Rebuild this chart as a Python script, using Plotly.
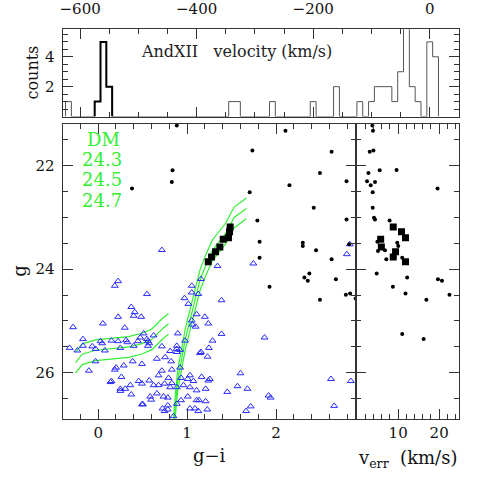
import numpy as np
import plotly.graph_objects as go

# ---------------- data ----------------
# velocity histogram (10 km/s bins, bin centres and counts)
bin_width = 10
all_vel_centers = [-620, -570, -560, -550, -340, -330, -270, -200, -160, -120,
                   -100, -90, -80, -70, -60, -50, -40, -30, -20, 0, 10]
all_vel_counts = [1, 1, 5, 2, 1, 1, 1, 1, 2, 1,
                  1, 2, 2, 2, 1, 3, 12, 2, 1, 5, 4]
member_vel_centers = [-570, -560, -550]
member_vel_counts = [1, 5, 2]

# photometric-only stars (g-i, g)
tri_gi = [0.716, 1.342, 1.745, 2.830, 2.796, 0.187, 0.224, 1.052, 1.156, 1.387,
          0.548, 1.052, 1.126, 0.970, 0.372, 1.015, 0.411, 0.399, 0.224, 0.484,
          1.107, 1.200, 1.052, -0.283, 0.053, 0.299, 1.059, 1.096, 1.238, 0.511,
          0.623, 0.895, -0.171, 0.026, 0.045, 0.149, 0.224, 0.313, 0.328, 0.447,
          0.548, 0.559, 0.574, 0.473, 0.977, -0.321, -0.235, -0.171, -0.067, -0.030,
          0.075, 0.249, 0.399, 0.559, 0.716, 0.809, 0.884, 0.884, 0.884, 0.921,
          1.245, 1.144, -0.030, 0.388, 0.492, 0.660, 0.753, 0.820, 1.230, -0.104,
          0.187, 0.201, 0.287, 0.716, 0.828, 0.921, 0.679, 0.791, 0.932, 1.007,
          1.032, 1.163, 0.149, 0.261, 0.455, 0.492, 0.574, 0.746, 0.828, 1.071,
          1.238, 0.249, 0.305, 0.361, 0.623, 0.679, 0.809, 0.884, 0.959, 1.032,
          0.249, 0.372, 1.107, 1.208, 0.585, 0.735, 0.783, 1.007, 0.596, 0.492,
          0.783, 0.884, 1.107, 1.208, 0.724, 0.746, 0.783, 1.032, 1.088, 1.227,
          0.847, 1.387, 1.286, 1.156, 1.871, 1.600, 1.566, 1.678, 1.451, 1.715,
          1.663, 1.916, 1.939, 2.618, 2.841, 2.654, 1.256, 1.133, 1.126, 0.932,
          0.138, 0.660, 0.503]
tri_g = [23.63, 23.94, 23.89, 23.52, 23.71, 24.32, 24.23, 24.32, 24.19, 24.60,
         24.48, 24.45, 24.48, 24.56, 24.73, 24.67, 24.83, 24.90, 24.92, 24.92,
         24.87, 24.92, 24.99, 25.12, 25.05, 25.13, 25.07, 25.11, 25.05, 25.24,
         25.28, 25.24, 25.35, 25.39, 25.43, 25.38, 25.39, 25.37, 25.41, 25.39,
         25.35, 25.39, 25.43, 25.32, 25.38, 25.52, 25.57, 25.48, 25.49, 25.54,
         25.57, 25.52, 25.48, 25.48, 25.49, 25.58, 25.48, 25.54, 25.60, 25.56,
         25.52, 25.62, 25.78, 25.78, 25.83, 25.73, 25.70, 25.78, 25.69, 25.96,
         25.94, 25.90, 25.86, 25.96, 25.94, 25.90, 26.05, 26.10, 26.10, 26.12,
         26.05, 26.08, 26.16, 26.08, 26.16, 26.21, 26.15, 26.21, 26.20, 26.16,
         26.15, 26.31, 26.31, 26.24, 26.24, 26.24, 26.28, 26.28, 26.24, 26.28,
         26.35, 26.42, 26.34, 26.31, 26.46, 26.46, 26.48, 26.46, 26.52, 26.61,
         26.63, 26.60, 26.53, 26.55, 26.69, 26.74, 26.71, 26.69, 26.69, 26.71,
         26.84, 25.25, 25.38, 25.60, 25.32, 26.01, 26.26, 26.31, 26.37, 26.65,
         26.74, 26.44, 26.48, 26.12, 26.16, 26.64, 26.12, 26.53, 26.74, 26.53,
         26.18, 26.40, 26.61]

# stars with velocities, non-members (g-i, g, v_err); None = outside the panel
dot_gi = [0.884, 2.106, 1.734, 2.625, 0.836, None, 2.494, 2.793, 0.828, 2.151,
          0.380, 1.704, 2.424, None, 2.793, 1.790, 1.815, 2.301, 2.301, 2.822,
          2.450, None, 1.815, 2.625, 2.375, 2.319, 2.673, 2.357, 1.927, 2.833,
          2.785, 2.494, 2.895, None, None]
dot_g = [21.225, 21.327, 21.71, 21.73, 22.09, 22.085, 22.142, 22.30, 22.315, 22.379,
         22.442, 22.513, 22.815, 23.008, 23.038, 23.058, 23.469, 23.488, 23.552, 23.519,
         23.635, 23.648, 23.777, 23.808, 24.085, 24.162, 24.192, 24.225, 24.34, 24.469,
         24.494, 24.59, 24.565, 25.25, 25.346]
dot_verr = [3.73, 3.87, 3.97, 3.07, 5.50, 9.61, 2.76, 2.42, 4.36, 3.32,
            19.61, 3.80, 3.80, 4.12, 4.36, 7.92, 4.94, 9.78, 10.02, None,
            6.78, 5.08, 10.99, 7.12, 4.77, 12.20, 19.71, 20.68, 8.72, 11.79,
            22.52, 16.88, None, 10.99, 16.22]

# AndXII members
mem_gi = [1.484, 1.477, 1.465, 1.406, 1.368, 1.320, 1.275, 1.238]
mem_g = [23.187, 23.277, 23.392, 23.423, 23.571, 23.662, 23.763, 23.854]
mem_verr = [8.81, 10.82, 11.79, 5.74, 5.91, 9.37, 8.81, 11.79]

# isochrone (absolute g magnitude) : red giant branch and horizontal branch
rgb_gi = [0.830, 0.845, 0.865, 0.895, 0.940, 0.977, 1.032, 1.088, 1.144, 1.208,
          1.283, 1.432, 1.529, 1.667]
rgb_Mg = [3.00, 2.60, 2.185, 1.640, 1.256, 0.871, 0.487, 0.102, -0.283, -0.571,
          -0.86, -1.187, -1.50, -1.673]
hb_gi = [-0.254, -0.179, -0.030, 0.157, 0.343, 0.492, 0.604, 0.716, 0.791]
hb_Mg = [1.304, 1.142, 1.065, 1.035, 1.002, 0.938, 0.854, 0.662, 0.554]
dm_values = [24.3, 24.5, 24.7]
dm_labels = ["24.3", "24.5", "24.7"]

# ---------------- helpers ----------------
def step_outline(centers, counts, width):
    centers = np.asarray(centers, float)
    lo = centers.min() - width / 2
    hi = centers.max() + width / 2
    nb = int(round((hi - lo) / width))
    edges = lo + width * np.arange(nb + 1)
    full = np.zeros(nb)
    for c, n in zip(centers, counts):
        full[int(round((c - width / 2 - lo) / width))] = n
    xs = np.repeat(edges, 2)
    ys = np.concatenate([[0], np.repeat(full, 2), [0]])
    return xs, ys

GREEN = "#33ee33"
BLUE = "#2a2aff"
AX = "#333333"
FONT = "DejaVu Serif"

fig = go.Figure()

hx, hy = step_outline(all_vel_centers, all_vel_counts, bin_width)
fig.add_trace(go.Scatter(x=hx, y=hy, mode="lines", line=dict(color="#555555", width=1),
                         xaxis="x", yaxis="y", showlegend=False, hoverinfo="skip"))
mx, my = step_outline(member_vel_centers, member_vel_counts, bin_width)
fig.add_trace(go.Scatter(x=mx, y=my, mode="lines", line=dict(color="black", width=2),
                         xaxis="x", yaxis="y", showlegend=False, hoverinfo="skip"))

# isochrones
for dm in dm_values:
    fig.add_trace(go.Scatter(x=rgb_gi, y=[m + dm for m in rgb_Mg], mode="lines",
                             line=dict(color=GREEN, width=1.2), xaxis="x2", yaxis="y2",
                             showlegend=False))
    fig.add_trace(go.Scatter(x=hb_gi, y=[m + dm for m in hb_Mg], mode="lines",
                             line=dict(color=GREEN, width=1.2), xaxis="x2", yaxis="y2",
                             showlegend=False))

fig.add_trace(go.Scatter(x=tri_gi, y=tri_g, mode="markers",
                         marker=dict(symbol="triangle-up-open", size=6, color=BLUE,
                                     line=dict(width=1, color=BLUE)),
                         xaxis="x2", yaxis="y2", showlegend=False))
fig.add_trace(go.Scatter(x=dot_gi, y=dot_g, mode="markers",
                         marker=dict(symbol="circle", size=4, color="black"),
                         xaxis="x2", yaxis="y2", showlegend=False))
fig.add_trace(go.Scatter(x=mem_gi, y=mem_g, mode="markers",
                         marker=dict(symbol="square", size=7, color="black"),
                         xaxis="x2", yaxis="y2", showlegend=False))

fig.add_trace(go.Scatter(x=dot_verr, y=dot_g, mode="markers",
                         marker=dict(symbol="circle", size=4, color="black"),
                         xaxis="x3", yaxis="y3", showlegend=False))
fig.add_trace(go.Scatter(x=mem_verr, y=mem_g, mode="markers",
                         marker=dict(symbol="square", size=7, color="black"),
                         xaxis="x3", yaxis="y3", showlegend=False))

W = H = 485.0


def common(**kw):
    d = dict(showline=True, linecolor=AX, linewidth=1, mirror="ticks", ticks="inside",
             ticklen=10, tickwidth=1, tickcolor=AX, showgrid=False, zeroline=False,
             tickfont=dict(family=FONT, size=15, color="#111"), ticklabelstandoff=4)
    d.update(kw)
    return d


def minor(dtick, tick0=0):
    return dict(ticks="inside", ticklen=5, tickwidth=1, tickcolor=AX,
                tickmode="linear", dtick=dtick, tick0=tick0, showgrid=False)


fig.update_layout(
    width=485, height=485, autosize=False,
    margin=dict(l=0, r=0, t=0, b=0),
    paper_bgcolor="white", plot_bgcolor="white",
    xaxis=common(domain=[60 / W, 459.3 / W], range=[-630, 51], side="top",
                 tickmode="linear", dtick=200, tick0=0, minor=minor(50), anchor="y",
                 ticklabelstandoff=8),
    yaxis=common(domain=[1 - 115 / H, 1 - 27.3 / H], range=[0, 5.85],
                 tickmode="array", tickvals=[2, 4], minor=minor(0.5), anchor="x"),
    xaxis2=common(domain=[60 / W, 355.7 / W], range=[-0.4, 2.905],
                  tickmode="array", tickvals=[0, 1, 2], minor=minor(0.2), anchor="y2",
                  ticklabelstandoff=0),
    yaxis2=common(domain=[1 - 418.3 / H, 1 - 122.3 / H], range=[26.885, 21.192],
                  tickmode="array", tickvals=[22, 24, 26], minor=minor(0.5), anchor="x2"),
    xaxis3=common(domain=[355.7 / W, 459.3 / W], range=[-0.15, 24.95],
                  tickmode="array", tickvals=[10, 20], minor=minor(2), anchor="y3",
                  ticklabelstandoff=0),
    yaxis3=common(domain=[1 - 418.3 / H, 1 - 122.3 / H], range=[26.885, 21.192],
                  tickmode="array", tickvals=[22, 24, 26], minor=minor(0.5),
                  showticklabels=False, anchor="x3"),
)

ann = []
ann.append(dict(text="AndXII\u00a0\u00a0\u00a0velocity (km/s)", x=-499, y=4.35, xref="x", yref="y",
                xanchor="left", yanchor="middle", showarrow=False,
                font=dict(family=FONT, size=16, color="#222")))
ann.append(dict(text="DM", x=0.06, y=21.50, xref="x2", yref="y2", showarrow=False,
                xanchor="center", yanchor="middle", font=dict(family=FONT, size=18, color=GREEN)))
for lab, yy in zip(dm_labels, [21.88, 22.27, 22.67]):
    ann.append(dict(text=lab, x=0.04, y=yy, xref="x2", yref="y2", showarrow=False,
                    xanchor="center", yanchor="middle", font=dict(family=FONT, size=18, color=GREEN)))


def paper_label(text, px, py, size, angle=0):
    return dict(text=text, x=px / W, y=1 - py / H, xref="paper", yref="paper",
                xanchor="center", yanchor="middle", textangle=angle, showarrow=False,
                font=dict(family=FONT, size=size, color="#111"))


ann.append(paper_label("counts", 30, 71, 16, -90))
ann.append(paper_label("g", 17, 270, 18, -90))
ann.append(paper_label("g\u2212i", 208, 455, 18))
ann.append(paper_label("v<sub>err</sub>\u00a0 (km/s)", 407, 459, 18))
fig.update_layout(annotations=ann)

fig.write_html("out.html", config={"displayModeBar": False},
               post_script="document.body.style.margin='0';document.body.style.padding='0';")
